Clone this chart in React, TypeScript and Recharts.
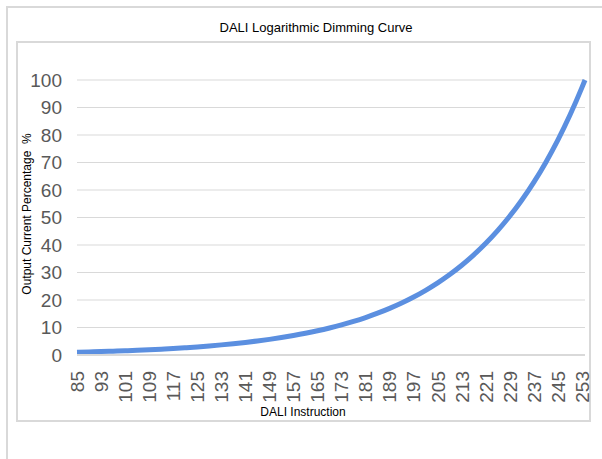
import { CartesianGrid, Line, LineChart, XAxis, YAxis } from "recharts";

// DALI arc power level (instruction) vs. output current %
const levels = [
  85, 89, 93, 97, 101, 105, 109, 113, 117, 121, 125, 129, 133, 137, 141, 145, 149, 153, 157, 161, 165,
  169, 173, 177, 181, 185, 189, 193, 197, 201, 205, 209, 213, 217, 221, 225, 229, 233, 237, 241, 245,
  249, 253, 254,
];
const outputPct = [
  0.99, 1.1, 1.23, 1.38, 1.53, 1.71, 1.91, 2.13, 2.37, 2.65, 2.95, 3.3, 3.68, 4.1, 4.57, 5.1, 5.69, 6.35,
  7.08, 7.89, 8.8, 9.82, 10.95, 12.22, 13.63, 15.2, 16.96, 18.91, 21.09, 23.53, 26.24, 29.27, 32.65,
  36.42, 40.62, 45.31, 50.53, 56.37, 62.87, 70.13, 78.22, 87.25, 97.31, 100,
];
const xTicks = [
  85, 93, 101, 109, 117, 125, 133, 141, 149, 157, 165, 173, 181, 189, 197, 205, 213, 221, 229, 237, 245, 253,
];
const yTicks = [0, 10, 20, 30, 40, 50, 60, 70, 80, 90, 100];

const data = levels.map((lvl, i) => ({ level: lvl, pct: outputPct[i] }));

const FONT = "'Liberation Sans', Arial, sans-serif";
const GRID = "#d9d9d9";
const TICK = "#595959";

function XTick({ x, y, payload }: any) {
  return (
    <text
      x={x}
      y={y}
      transform={`rotate(-90 ${x} ${y})`}
      textAnchor="end"
      dy="0.36em"
      fill={TICK}
      fontSize={19}
      fontFamily={FONT}
    >
      {payload.value}
    </text>
  );
}

export default function App() {
  return (
    <div
      style={{
        position: "absolute",
        left: 0,
        top: 0,
        width: 602,
        height: 459,
        overflow: "hidden",
        background: "#fff",
        fontFamily: FONT,
      }}
    >
      {/* outer chart frame, runs off the page */}
      <div
        style={{
          position: "absolute",
          left: 6,
          top: 6,
          width: 700,
          height: 600,
          border: `2px solid ${GRID}`,
          boxSizing: "border-box",
        }}
      />
      {/* plot box */}
      <div
        style={{
          position: "absolute",
          left: 16,
          top: 41,
          width: 575,
          height: 381,
          border: `2px solid ${GRID}`,
          boxSizing: "border-box",
        }}
      />
      <div style={{ position: "absolute", left: 0, top: 0 }}>
        <LineChart width={602} height={459} data={data} margin={{ top: 80, right: 17, bottom: 54, left: 17 }}>
          <CartesianGrid vertical={false} stroke={GRID} strokeWidth={1} />
          <XAxis
            dataKey="level"
            type="number"
            domain={[85, 254]}
            ticks={xTicks}
            interval={0}
            height={50}
            tickLine={false}
            tickSize={0}
            tickMargin={16}
            axisLine={{ stroke: GRID, strokeWidth: 2 }}
            tick={<XTick />}
          />
          <YAxis
            domain={[0, 100]}
            ticks={yTicks}
            width={60}
            axisLine={false}
            tickLine={false}
            tickSize={0}
            tickMargin={15}
            tick={{ fill: TICK, fontSize: 19, fontFamily: FONT }}
          />
          <Line
            dataKey="pct"
            type="monotone"
            stroke="#5b8fe0"
            strokeWidth={5}
            dot={false}
            isAnimationActive={false}
          />
        </LineChart>
      </div>
      <svg width={602} height={459} style={{ position: "absolute", left: 0, top: 0, pointerEvents: "none" }}>
        <text x={316} y={32} textAnchor="middle" fontSize={13} fontFamily={FONT} fill="#000">
          DALI Logarithmic Dimming Curve
        </text>
        <text x={303} y={416} textAnchor="middle" fontSize={12} fontFamily={FONT} fill="#000">
          DALI Instruction
        </text>
        <text
          x={27}
          y={214}
          transform="rotate(-90 27 214)"
          textAnchor="middle"
          dy="0.36em"
          fontSize={12}
          fontFamily={FONT}
          fill="#000"
        >
          {"Output Current Percentage\u00a0\u00a0%"}
        </text>
      </svg>
    </div>
  );
}
